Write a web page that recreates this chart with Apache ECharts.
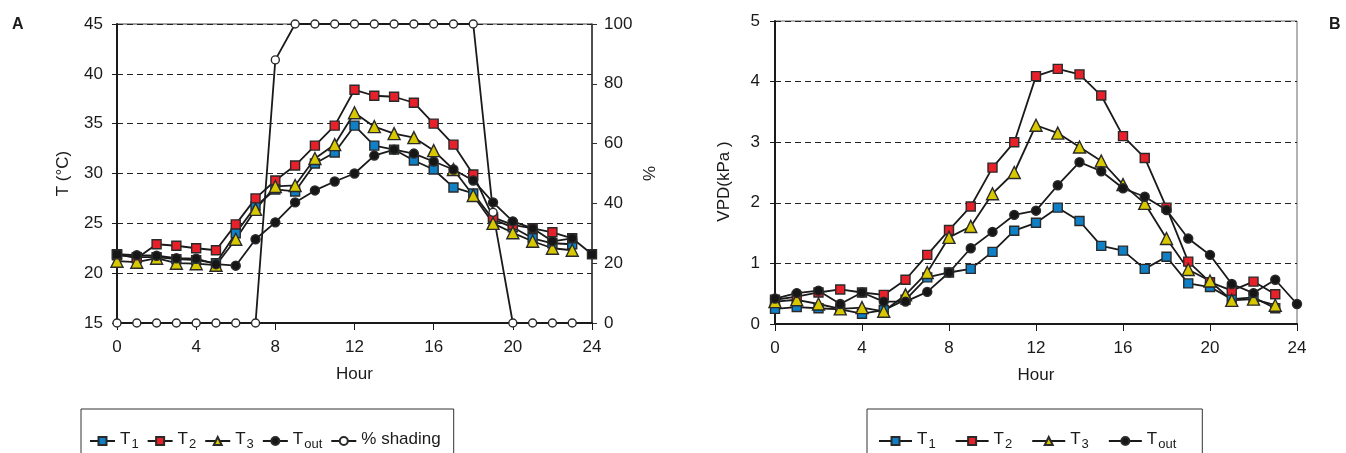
<!DOCTYPE html>
<html><head><meta charset="utf-8">
<script src="https://cdn.jsdelivr.net/npm/echarts@6/dist/echarts.min.js"></script>
<style>html,body{margin:0;padding:0;background:#fff}#c{width:1346px;height:453px}</style>
</head><body><div id="c"></div>
<script>
// ---------- data ----------
const hours = [0,1,2,3,4,5,6,7,8,9,10,11,12,13,14,15,16,17,18,19,20,21,22,23];
const hoursOut = [0,1,2,3,4,5,6,7,8,9,10,11,12,13,14,15,16,17,18,19,20,21,22,23,24];
const xTicks = [0,4,8,12,16,20,24];

// Panel A: temperature (°C) and % shading
const T1_A = [21.8,21.6,21.6,21.4,21.3,21.0,24.0,26.7,28.4,28.2,31.0,32.1,34.8,32.8,32.4,31.3,30.4,28.6,28.0,25.4,24.6,23.5,23.0,22.9];
const T2_A = [21.9,21.5,22.9,22.75,22.5,22.3,24.9,27.5,29.3,30.8,32.8,34.8,38.4,37.8,37.7,37.1,35.0,32.9,29.9,25.6,24.85,24.5,24.1,23.5];
const T3_A = [21.2,21.1,21.5,21.0,20.95,20.8,23.4,26.4,28.7,28.8,31.5,32.9,36.1,34.7,34.0,33.6,32.3,30.4,27.8,25.0,24.05,23.2,22.5,22.3];
const Tout_A = [21.9,21.8,21.75,21.5,21.45,20.9,20.75,23.4,25.1,27.1,28.3,29.2,30.0,31.8,32.4,32.0,31.2,30.4,29.3,27.1,25.2,24.5,23.2,23.5,21.9];
const shading = [0,0,0,0,0,0,0,0,88,100,100,100,100,100,100,100,100,100,100,37,0,0,0,0];

// Panel B: VPD (kPa)
const T1_B = [0.25,0.28,0.26,0.24,0.17,0.23,0.40,0.77,0.85,0.91,1.19,1.54,1.67,1.92,1.70,1.29,1.21,0.91,1.11,0.67,0.61,0.41,0.44,0.26];
const T2_B = [0.40,0.45,0.52,0.57,0.52,0.48,0.73,1.14,1.55,1.94,2.58,3.00,4.09,4.21,4.12,3.77,3.10,2.74,1.92,1.03,0.69,0.55,0.70,0.49];
const T3_B = [0.37,0.40,0.33,0.25,0.27,0.21,0.48,0.85,1.43,1.61,2.15,2.50,3.28,3.15,2.92,2.69,2.30,1.99,1.41,0.90,0.71,0.39,0.41,0.31];
const Tout_B = [0.42,0.51,0.55,0.33,0.52,0.37,0.37,0.53,0.85,1.25,1.52,1.80,1.87,2.29,2.67,2.52,2.24,2.10,1.88,1.41,1.14,0.66,0.51,0.73,0.33];

const legendA = ['T1','T2','T3','Tout','% shading'];
const legendB = ['T1','T2','T3','Tout'];

// ---------- styling ----------
const FONT = 'Liberation Sans, Arial, Helvetica, sans-serif';
const INK = '#1a1a1a';
const LINE = {color: '#1a1a1a', width: 1.8};
const styles = {
  'T1':   {symbol: 'rect', size: 9, fill: '#0f7fc6'},
  'T2':   {symbol: 'rect', size: 9, fill: '#e8202a'},
  'T3':   {symbol: 'triangle', size: 12, fill: '#d8c800'},
  'Tout': {symbol: 'circle', size: 9, fill: '#161616'},
  '% shading': {symbol: 'circle', size: 8, fill: '#ffffff'}
};
const pairs = (xs, ys) => ys.map((v, i) => [xs[i], v]);

function mkSeries(name, xs, ys, xi, yi, symbolOverride) {
  const s = styles[name];
  return {
    name, type: 'line', xAxisIndex: xi, yAxisIndex: yi,
    data: pairs(xs, ys),
    symbol: symbolOverride || s.symbol, symbolSize: s.size,
    showAllSymbol: true,
    itemStyle: {color: s.fill, borderColor: '#2a2a2a', borderWidth: 1.4, opacity: 1},
    lineStyle: LINE,
    emphasis: {disabled: true},
    animation: false
  };
}

const tickLabel = {fontFamily: FONT, fontSize: 17, color: INK};
function xAxisCfg(gi) {
  return {
    type: 'value', gridIndex: gi, min: 0, max: 24, interval: 4,
    name: 'Hour', nameLocation: 'middle', nameGap: 43,
    nameTextStyle: {fontFamily: FONT, fontSize: 17, color: INK},
    axisLine: {onZero: false, lineStyle: {color: INK, width: 2}},
    axisTick: {show: true, length: 7, lineStyle: {color: INK, width: 1}},
    axisLabel: Object.assign({margin: 16, formatter: v => xTicks.includes(v) ? String(v) : ''}, tickLabel),
    splitLine: {show: false}
  };
}
const dashed = {show: true, lineStyle: {color: '#222', width: 1, type: [6, 4]}};

function subFmt(name) {
  if (name === 'T1') return '{m|T}{s|1}';
  if (name === 'T2') return '{m|T}{s|2}';
  if (name === 'T3') return '{m|T}{s|3}';
  if (name === 'Tout') return '{m|T}{s|out}';
  return '{m|' + name + '}';
}
const legendRich = {
  m: {fontFamily: FONT, fontSize: 17, color: INK, lineHeight: 20, verticalAlign: 'top'},
  s: {fontFamily: FONT, fontSize: 13, color: INK, lineHeight: 13, padding: [9, 0, 0, 1], verticalAlign: 'bottom'}
};

const chart = echarts.init(document.getElementById('c'), null, {renderer: 'canvas'});
const option = {
  backgroundColor: '#ffffff',
  animation: false,
  textStyle: {fontFamily: FONT},
  grid: [
    {left: 117, top: 24, width: 475, height: 299, show: true, borderColor: '#444', borderWidth: 1, containLabel: false},
    {left: 775, top: 21, width: 522, height: 303, show: true, borderColor: '#666', borderWidth: 1, containLabel: false}
  ],
  xAxis: [xAxisCfg(0), xAxisCfg(1)],
  yAxis: [
    {type: 'value', gridIndex: 0, min: 15, max: 45, interval: 5,
     name: 'T (°C)', nameLocation: 'middle', nameGap: 45,
     nameTextStyle: {fontFamily: FONT, fontSize: 17, color: INK},
     axisLine: {show: true, lineStyle: {color: INK, width: 2}},
     axisTick: {show: true, length: 5, lineStyle: {color: INK}},
     axisLabel: Object.assign({margin: 14}, tickLabel),
     splitLine: dashed},
    {type: 'value', gridIndex: 0, min: 0, max: 100, interval: 20, position: 'right',
     name: '%', nameLocation: 'middle', nameGap: 50,
     nameTextStyle: {fontFamily: FONT, fontSize: 17, color: INK},
     axisLine: {show: true, lineStyle: {color: '#333', width: 1.5}},
     axisTick: {show: true, length: 5, lineStyle: {color: '#333'}},
     axisLabel: Object.assign({margin: 12}, tickLabel),
     splitLine: {show: false}},
    {type: 'value', gridIndex: 1, min: 0, max: 5, interval: 1,
     name: 'VPD(kPa )', nameLocation: 'middle', nameGap: 42,
     nameTextStyle: {fontFamily: FONT, fontSize: 17, color: INK, padding: [0, 18, 0, 0]},
     axisLine: {show: true, lineStyle: {color: INK, width: 2}},
     axisTick: {show: true, length: 5, lineStyle: {color: INK}},
     axisLabel: Object.assign({margin: 15}, tickLabel),
     splitLine: dashed}
  ],
  legend: [
    {data: legendA, left: 81, top: 409, orient: 'horizontal',
     itemWidth: 25, itemHeight: 10, itemGap: 8,
     padding: [20, 13, 20, 8], borderColor: '#333', borderWidth: 1,
     selectedMode: false, formatter: subFmt,
     textStyle: {fontFamily: FONT, fontSize: 17, color: INK, rich: legendRich}},
    {data: legendB, left: 867, top: 409, orient: 'horizontal',
     itemWidth: 33, itemHeight: 10, itemGap: 19,
     padding: [20, 26, 20, 11], borderColor: '#333', borderWidth: 1,
     selectedMode: false, formatter: subFmt,
     textStyle: {fontFamily: FONT, fontSize: 17, color: INK, rich: legendRich}}
  ],
  graphic: [
    {type: 'text', left: 12, top: 17, style: {text: 'A', fontFamily: FONT, fontSize: 16, fontWeight: 'bold', fill: INK}},
    {type: 'text', left: 1329, top: 17, style: {text: 'B', fontFamily: FONT, fontSize: 16, fontWeight: 'bold', fill: INK}}
  ],
  series: [
    mkSeries('T1', hours, T1_A, 0, 0),
    mkSeries('T2', hours, T2_A, 0, 0),
    mkSeries('T3', hours, T3_A, 0, 0),
    mkSeries('Tout', hoursOut, Tout_A, 0, 0, (v) => (v[0] === 0 || v[0] === 24) ? 'rect' : 'circle'),
    mkSeries('% shading', hours, shading, 0, 1),
    mkSeries('T1', hours, T1_B, 1, 2),
    mkSeries('T2', hours, T2_B, 1, 2),
    mkSeries('T3', hours, T3_B, 1, 2),
    mkSeries('Tout', hoursOut, Tout_B, 1, 2)
  ]
};
chart.setOption(option);
</script></body></html>
